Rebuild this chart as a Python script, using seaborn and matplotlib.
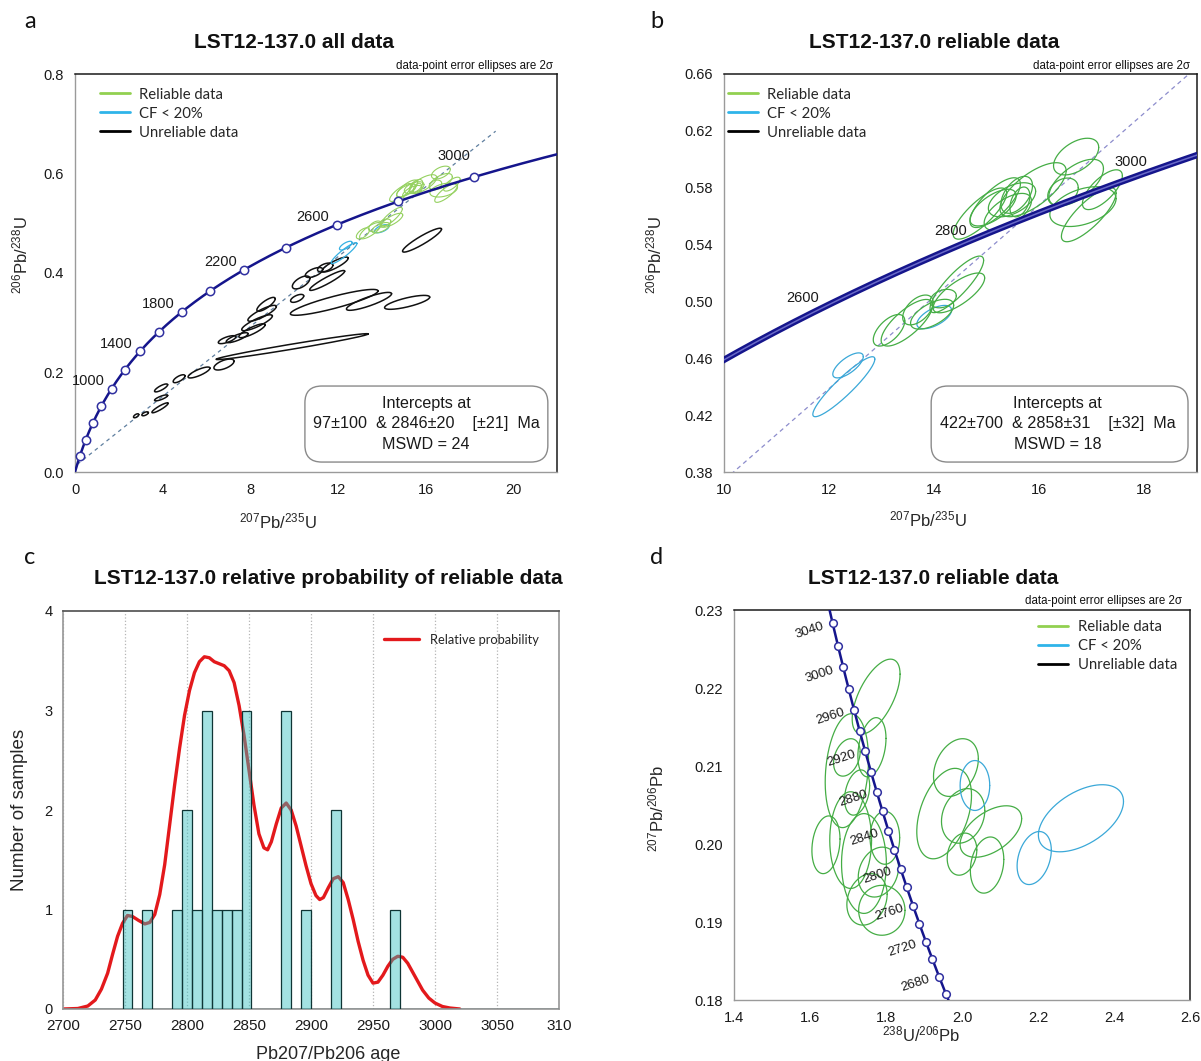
import numpy as np
import pandas as pd
import matplotlib
matplotlib.use("Agg")
import matplotlib.pyplot as plt
import seaborn as sns
from matplotlib.lines import Line2D
from matplotlib.patches import FancyBboxPatch
from matplotlib.ticker import MultipleLocator, FormatStrFormatter, FixedLocator, FixedFormatter

# ------------------------------------------------------------------ data
LAMBDA_238 = 1.55125e-10
LAMBDA_235 = 9.8485e-10
U238_U235 = 137.88

# panel a (Wetherill concordia, all data)
a_marker_ages = [200, 400, 600, 800, 1000, 1200, 1400, 1600, 1800, 2000,
                 2200, 2400, 2600, 2800, 3000]
a_label_ages = [1000, 1400, 1800, 2200, 2600, 3000]
a_intercepts = [97, 2846]
a_box_lines = ["Intercepts at", "97\u00b1100  & 2846\u00b120    [\u00b121]  Ma", "MSWD = 24"]

# unreliable analyses (207Pb/235U, 206Pb/238U, half-extent x, half-extent y, rho)
bad_x = [15.84, 11.83, 13.42, 15.16, 9.91, 6.80, 5.66, 4.75, 3.93, 3.88, 2.79, 3.20,
         3.93, 8.72, 8.54, 8.31, 8.08, 7.40, 6.94, 10.14, 10.32, 10.91, 11.42, 11.51, 11.87]
bad_y = [0.466, 0.341, 0.343, 0.341, 0.252, 0.216, 0.200, 0.1875, 0.169, 0.129, 0.113, 0.117,
         0.149, 0.337, 0.319, 0.300, 0.284, 0.270, 0.266, 0.349, 0.381, 0.401, 0.411, 0.385, 0.417]
bad_sx = [0.89, 2.00, 1.03, 1.03, 3.47, 0.46, 0.50, 0.27, 0.30, 0.37, 0.12, 0.15,
          0.30, 0.42, 0.65, 0.70, 0.60, 0.50, 0.40, 0.30, 0.40, 0.40, 0.35, 0.80, 0.60]
bad_sy = [0.024, 0.026, 0.018, 0.014, 0.026, 0.011, 0.011, 0.008, 0.008, 0.010, 0.004, 0.004,
          0.006, 0.014, 0.016, 0.016, 0.014, 0.010, 0.008, 0.008, 0.013, 0.010, 0.009, 0.020, 0.015]
bad_rho = [0.92, 0.88, 0.85, 0.75, 0.98, 0.60, 0.80, 0.70, 0.80, 0.90, 0.60, 0.60,
           0.80, 0.80, 0.85, 0.85, 0.85, 0.80, 0.70, 0.60, 0.60, 0.60, 0.50, 0.93, 0.85]

# reliable analyses (Wetherill space)
rel_x = [13.14, 13.48, 13.69, 13.96, 14.43, 14.47, 14.17, 14.87, 15.16, 15.12, 15.40,
         15.48, 15.88, 15.63, 15.57, 16.45, 16.70, 16.70, 16.83, 16.94, 17.20]
rel_y = [0.4797, 0.485, 0.494, 0.491, 0.512, 0.506, 0.502, 0.5618, 0.5695, 0.566, 0.563,
         0.5715, 0.5786, 0.570, 0.575, 0.577, 0.5836, 0.6019, 0.5667, 0.561, 0.5786]
rel_sx = [0.30, 0.49, 0.29, 0.41, 0.51, 0.49, 0.25, 0.51, 0.48, 0.44, 0.45,
          0.45, 0.63, 0.19, 0.30, 0.29, 0.52, 0.43, 0.63, 0.52, 0.38]
rel_sy = [0.0111, 0.0164, 0.0105, 0.0105, 0.0199, 0.014, 0.0065, 0.018, 0.0175, 0.0129, 0.013,
          0.012, 0.019, 0.0105, 0.013, 0.0098, 0.0164, 0.0129, 0.014, 0.019, 0.014]
rel_rho = [0.60, 0.75, 0.50, 0.60, 0.85, 0.75, 0.30, 0.80, 0.75, 0.65, 0.60,
           0.50, 0.70, 0.40, 0.50, 0.30, 0.60, 0.50, 0.40, 0.80, 0.70]

# common-Pb flagged (CF < 20 %) analyses (Wetherill space)
cf_x = [14.00, 12.36, 12.28]
cf_y = [0.489, 0.455, 0.440]
cf_sx = [0.33, 0.29, 0.59]
cf_sy = [0.0082, 0.0088, 0.0211]
cf_rho = [0.60, 0.70, 0.92]

# panel b
b_label_ages = [2600, 2800, 3000]
b_intercepts = [422, 2858]
b_box_lines = ["Intercepts at", "422\u00b1700  & 2858\u00b131    [\u00b132]  Ma", "MSWD = 18"]
b_ytick_values = [0.38, 0.42, 0.46, 0.50, 0.54, 0.58, 0.62, 0.66]
b_yminor_values = [0.40, 0.44, 0.48, 0.52, 0.56, 0.60, 0.64]

# panel c (histogram of 207Pb/206Pb ages, 8 Ma bins)
hist_bin_left = [2748, 2764, 2788, 2796, 2804, 2812, 2820, 2828, 2836, 2844, 2876, 2892, 2916, 2964]
hist_counts = [1, 1, 1, 2, 1, 3, 1, 1, 1, 3, 3, 1, 2, 1]
prob_age = [2700, 2712, 2720, 2726, 2731, 2736, 2740, 2744, 2748, 2752, 2756, 2761, 2766, 2770,
            2774, 2778, 2782, 2786, 2790, 2794, 2798, 2802, 2806, 2810, 2814, 2818, 2822, 2826,
            2830, 2834, 2838, 2842, 2846, 2850, 2854, 2858, 2862, 2865, 2868, 2872, 2876, 2880,
            2884, 2888, 2892, 2896, 2900, 2904, 2907, 2910, 2914, 2918, 2922, 2926, 2930, 2934,
            2938, 2942, 2946, 2950, 2954, 2958, 2962, 2966, 2970, 2974, 2978, 2982, 2986, 2990,
            2995, 3000, 3006, 3012, 3020]
prob_value = [0.0, 0.005, 0.03, 0.09, 0.20, 0.36, 0.55, 0.73, 0.86, 0.94, 0.93, 0.89, 0.855, 0.87,
              0.95, 1.15, 1.45, 1.85, 2.25, 2.62, 2.95, 3.20, 3.38, 3.49, 3.54, 3.53, 3.49, 3.47,
              3.45, 3.40, 3.28, 3.05, 2.75, 2.40, 2.05, 1.76, 1.62, 1.60, 1.68, 1.86, 2.02, 2.07,
              2.00, 1.84, 1.64, 1.44, 1.26, 1.14, 1.10, 1.12, 1.22, 1.31, 1.33, 1.27, 1.10, 0.90,
              0.68, 0.49, 0.34, 0.26, 0.27, 0.34, 0.43, 0.50, 0.53, 0.52, 0.46, 0.37, 0.28, 0.19,
              0.11, 0.06, 0.025, 0.01, 0.0]
c_xtick_values = [2700, 2750, 2800, 2850, 2900, 2950, 3000, 3050, 3100]
c_xtick_labels = ["2700", "2750", "2800", "2850", "2900", "2950", "3000", "3050", "310"]

# panel d (Tera-Wasserburg: 238U/206Pb, 207Pb/206Pb)
d_marker_ages = list(range(2640, 3081, 20))
d_label_ages = [2680, 2720, 2760, 2800, 2840, 2880, 2920, 2960, 3000, 3040]
tw_rel_x = [1.774, 1.763, 1.697, 1.697, 1.724, 1.642, 1.707, 1.742, 1.797, 1.780, 1.750, 1.789,
            1.984, 1.953, 2.003, 2.076, 2.000, 2.066]
tw_rel_y = [0.2189, 0.2124, 0.2111, 0.2094, 0.2066, 0.1999, 0.2005, 0.1975, 0.2008, 0.1964,
            0.1929, 0.1915, 0.2098, 0.2039, 0.2036, 0.2016, 0.1987, 0.1973]
tw_rel_sx = [0.063, 0.037, 0.035, 0.057, 0.033, 0.037, 0.055, 0.059, 0.039, 0.053, 0.053, 0.061,
             0.059, 0.072, 0.057, 0.081, 0.039, 0.044]
tw_rel_sy = [0.0048, 0.0038, 0.0024, 0.0073, 0.0029, 0.0037, 0.0062, 0.0064, 0.0034, 0.0032,
             0.0033, 0.0032, 0.0037, 0.0058, 0.0035, 0.0033, 0.0027, 0.0036]
tw_rel_rho = [0.60, 0.30, 0.30, 0.20, 0.30, 0.20, 0.0, 0.0, 0.0, 0.20, 0.20, 0.0,
              0.30, 0.40, 0.20, 0.50, 0.20, 0.20]
tw_cf_x = [2.034, 2.313, 2.190]
tw_cf_y = [0.2075, 0.2033, 0.1982]
tw_cf_sx = [0.039, 0.112, 0.045]
tw_cf_sy = [0.0032, 0.0043, 0.0034]
tw_cf_rho = [0.0, 0.50, 0.30]

legend_labels = ["Reliable data", "CF < 20%", "Unreliable data"]

# ------------------------------------------------------------------ helpers
def wetherill(age_ma):
    t = np.asarray(age_ma, dtype=float) * 1e6
    return np.exp(LAMBDA_235 * t) - 1.0, np.exp(LAMBDA_238 * t) - 1.0

def tera(age_ma):
    x75, y68 = wetherill(age_ma)
    return 1.0 / y68, x75 / y68 / U238_U235

def draw_ellipses(ax, xs, ys, sxs, sys_, rhos, color, lw, z=3):
    t = np.linspace(0, 2 * np.pi, 240)
    for cx, cy, sx, sy, r in zip(xs, ys, sxs, sys_, rhos):
        ex = cx + sx * np.cos(t)
        ey = cy + sy * (r * np.cos(t) + np.sqrt(1 - r * r) * np.sin(t))
        ax.plot(ex, ey, color=color, lw=lw, zorder=z)

def frame(ax):
    for s in ["left", "bottom"]:
        ax.spines[s].set_color("#9a9a9a")
        ax.spines[s].set_linewidth(1.0)
    for s in ["top", "right"]:
        ax.spines[s].set_color("#1a1a1a")
        ax.spines[s].set_linewidth(1.1)
    ax.tick_params(which="both", direction="in", color="#9a9a9a", labelsize=10.5,
                   labelcolor="#1a1a1a", top=False, right=False)
    ax.tick_params(which="major", length=4, width=0.8, pad=8)
    ax.tick_params(which="minor", length=3, width=0.8)

def add_legend(ax, x, y):
    colors = ["#92D050", "#2FB4E9", "#000000"]
    handles = [Line2D([], [], color=c, lw=2.0) for c in colors]
    ax.legend(handles, legend_labels, loc="upper left", bbox_to_anchor=(x, y),
              frameon=False, handlelength=2.0, handletextpad=0.65, labelspacing=0.34,
              borderaxespad=0, borderpad=0, prop={"family": "Lato", "size": 10.7})

def intercept_box(ax, x0, x1, y0, y1, xc, lines):
    box = FancyBboxPatch((x0, y0), x1 - x0, y1 - y0, transform=ax.transAxes,
                         boxstyle="round,pad=0,rounding_size=0.035", mutation_aspect=1.2,
                         fc="white", ec="#8a8a8a", lw=1.0, zorder=5)
    ax.add_patch(box)
    for yy, s in zip([0.171, 0.121, 0.070], lines):
        ax.text(xc, yy, s, transform=ax.transAxes, ha="center", va="center",
                fontsize=11.6, color="#1a1a1a", zorder=6)

# ------------------------------------------------------------------ figure
sns.set_theme(style="white")
plt.rcParams["font.family"] = ["Liberation Sans", "DejaVu Sans"]
plt.rcParams["mathtext.fontset"] = "custom"
plt.rcParams["mathtext.rm"] = "Liberation Sans"
plt.rcParams["mathtext.it"] = "Liberation Sans"
plt.rcParams["mathtext.bf"] = "Liberation Sans:bold"

W, H = 1201, 1061
fig = plt.figure(figsize=(W / 100, H / 100), dpi=100)
fig.patch.set_facecolor("white")

def px_axes(l, t, r, b):
    return fig.add_axes([l / W, 1 - b / H, (r - l) / W, (b - t) / H])

ax_a = px_axes(75, 74, 557, 472)
ax_b = px_axes(724, 74, 1197, 472)
ax_c = px_axes(63, 611, 559, 1009)
ax_d = px_axes(734, 610, 1190, 1000)

NAVY = "#15158C"
lab68 = r"$^{206}$Pb/$^{238}$U"
lab75 = r"$^{207}$Pb/$^{235}$U"

# ---------------- panel a
ages_curve = np.linspace(0, 3400, 600)
cx_, cy_ = wetherill(ages_curve)
sns.lineplot(x=cx_, y=cy_, ax=ax_a, color=NAVY, lw=1.8, sort=False, estimator=None, zorder=4)
mx, my = wetherill(a_marker_ages)
ax_a.plot(mx, my, "o", ms=6, mfc="white", mec="#3030A0", mew=1.1, zorder=5)
for age in a_label_ages:
    lx, ly = wetherill(age)
    off = (-14, 15) if age == 3000 else (-17, 5.5)
    ax_a.annotate(str(age), (lx, ly), xytext=off, textcoords="offset points",
                  ha="center", va="center", fontsize=10.5, color="#1a1a1a", zorder=6)
(ix0, iy0) = wetherill(a_intercepts[0])
(ix1, iy1) = wetherill(a_intercepts[1])
slope_a = (iy1 - iy0) / (ix1 - ix0)
dx = np.array([ix0, 19.2])
ax_a.plot(dx, iy0 + slope_a * (dx - ix0), ls=(0, (3, 3)), color="#5F7F9F", lw=0.9, zorder=2)
draw_ellipses(ax_a, bad_x, bad_y, bad_sx, bad_sy, bad_rho, "#111111", 1.1)
draw_ellipses(ax_a, cf_x, cf_y, cf_sx, cf_sy, cf_rho, "#35B0E2", 0.9)
draw_ellipses(ax_a, rel_x, rel_y, rel_sx, rel_sy, rel_rho, "#95D160", 0.8)
ax_a.set_xlim(0, 22)
ax_a.set_ylim(0, 0.8)
ax_a.xaxis.set_major_locator(MultipleLocator(4))
ax_a.xaxis.set_minor_locator(MultipleLocator(2))
ax_a.yaxis.set_major_locator(MultipleLocator(0.2))
ax_a.yaxis.set_minor_locator(MultipleLocator(0.1))
ax_a.yaxis.set_major_formatter(FormatStrFormatter("%.1f"))
frame(ax_a)
ax_a.set_xlabel(lab75, fontsize=12)
ax_a.set_ylabel(lab68, fontsize=12)
ax_a.xaxis.set_label_coords(0.42, -0.098)
ax_a.yaxis.set_label_coords(-0.092, 0.545)
add_legend(ax_a, 0.052, 0.966)
intercept_box(ax_a, 0.477, 0.981, 0.025, 0.216, 0.728, a_box_lines)

# ---------------- panel b
ages_b = np.linspace(2400, 3200, 400)
bx_, by_ = wetherill(ages_b)
sns.lineplot(x=bx_, y=by_, ax=ax_b, color=NAVY, lw=4.6, sort=False, estimator=None, zorder=4)
sns.lineplot(x=bx_, y=by_, ax=ax_b, color="#6A6AC8", lw=1.1, sort=False, estimator=None, zorder=4)
for age in b_label_ages:
    lx, ly = wetherill(age)
    ax_b.annotate(str(age), (lx, ly), xytext=(-17, 5.5), textcoords="offset points",
                  ha="center", va="center", fontsize=10.5, color="#1a1a1a", zorder=6)
(jx0, jy0) = wetherill(b_intercepts[0])
(jx1, jy1) = wetherill(b_intercepts[1])
slope_b = (jy1 - jy0) / (jx1 - jx0)
dxb = np.array([9.9, jx0 + (0.665 - jy0) / slope_b])
ax_b.plot(dxb, jy0 + slope_b * (dxb - jx0), ls=(0, (3.5, 3)), color="#8C8CCC", lw=0.9, zorder=2)
draw_ellipses(ax_b, cf_x, cf_y, cf_sx, cf_sy, cf_rho, "#3AA8D8", 0.9)
draw_ellipses(ax_b, rel_x, rel_y, rel_sx, rel_sy, rel_rho, "#45AD45", 0.9)
ax_b.set_xlim(10, 19)
ax_b.set_ylim(0.38, 0.66)
ax_b.xaxis.set_major_locator(MultipleLocator(2))
ax_b.xaxis.set_minor_locator(MultipleLocator(1))
ax_b.yaxis.set_major_locator(FixedLocator(b_ytick_values))
ax_b.yaxis.set_minor_locator(FixedLocator(b_yminor_values))
ax_b.yaxis.set_major_formatter(FormatStrFormatter("%.2f"))
frame(ax_b)
ax_b.set_xlabel(lab75, fontsize=12)
ax_b.set_ylabel(lab68, fontsize=12)
ax_b.xaxis.set_label_coords(0.43, -0.093)
ax_b.yaxis.set_label_coords(-0.125, 0.545)
add_legend(ax_b, 0.0085, 0.966)
intercept_box(ax_b, 0.438, 0.981, 0.025, 0.216, 0.705, b_box_lines)

# ---------------- panel c
hist_df = pd.DataFrame({"age": [v + 4 for v in hist_bin_left], "n": hist_counts})
prob_df = pd.DataFrame({"age": prob_age, "p": prob_value})
sns.lineplot(data=prob_df, x="age", y="p", ax=ax_c, color="#E3191C", lw=2.4, sort=False,
             estimator=None, zorder=2, label="Relative probability")
sns.histplot(data=hist_df, x="age", weights="n", binwidth=8, binrange=(2700, 3100), ax=ax_c,
             color="#33BFBF", alpha=0.45, edgecolor="#0F3535", linewidth=0.9, zorder=3)
ax_c.set_xlim(2700, 3100)
ax_c.set_ylim(0, 4)
ax_c.xaxis.set_major_locator(FixedLocator(c_xtick_values))
ax_c.xaxis.set_major_formatter(FixedFormatter(c_xtick_labels))
ax_c.xaxis.set_minor_locator(MultipleLocator(10))
ax_c.yaxis.set_major_locator(MultipleLocator(1))
ax_c.grid(axis="x", which="major", ls=":", color="#B5B5B5", lw=0.9)
ax_c.grid(axis="y", visible=False)
ax_c.set_axisbelow(True)
for s in ["left", "bottom", "right"]:
    ax_c.spines[s].set_color("#9a9a9a")
ax_c.spines["top"].set_color("#555555")
ax_c.tick_params(axis="x", which="both", direction="in", color="#8a8a8a", labelsize=11,
                 labelcolor="#1a1a1a", length=3, pad=7)
ax_c.tick_params(axis="y", which="major", direction="inout", color="#8a8a8a", labelsize=10.5,
                 labelcolor="#1a1a1a", length=5, pad=5)
ax_c.set_xlabel("Pb207/Pb206 age", fontsize=13)
ax_c.set_ylabel("Number of samples", fontsize=13.5)
ax_c.xaxis.set_label_coords(0.534, -0.093)
ax_c.yaxis.set_label_coords(-0.07, 0.5)
ax_c.legend(loc="upper left", bbox_to_anchor=(0.647, 0.943), frameon=False, handlelength=2.7,
            handletextpad=0.9, borderpad=0, borderaxespad=0,
            prop={"family": "Lato", "size": 9.3})

# ---------------- panel d
ages_d = np.linspace(2600, 3120, 400)
tx_, ty_ = tera(ages_d)
sns.lineplot(x=tx_, y=ty_, ax=ax_d, color=NAVY, lw=1.8, sort=False, estimator=None, zorder=4)
tmx, tmy = tera(d_marker_ages)
ax_d.plot(tmx, tmy, "o", ms=5.5, mfc="white", mec="#3030A0", mew=1.1, zorder=5)
for age in d_label_ages:
    lx, ly = tera(age)
    ax_d.annotate(str(age), (lx, ly), xytext=(-17, -5), textcoords="offset points",
                  ha="center", va="center", fontsize=9.5, rotation=18, color="#1a1a1a", zorder=6)
draw_ellipses(ax_d, tw_rel_x, tw_rel_y, tw_rel_sx, tw_rel_sy, tw_rel_rho, "#45AD45", 0.9)
draw_ellipses(ax_d, tw_cf_x, tw_cf_y, tw_cf_sx, tw_cf_sy, tw_cf_rho, "#3AA8D8", 0.9)
ax_d.set_xlim(1.4, 2.6)
ax_d.set_ylim(0.18, 0.23)
ax_d.xaxis.set_major_locator(MultipleLocator(0.2))
ax_d.xaxis.set_minor_locator(MultipleLocator(0.1))
ax_d.yaxis.set_major_locator(MultipleLocator(0.01))
ax_d.yaxis.set_minor_locator(MultipleLocator(0.005))
ax_d.xaxis.set_major_formatter(FormatStrFormatter("%.1f"))
ax_d.yaxis.set_major_formatter(FormatStrFormatter("%.2f"))
frame(ax_d)
ax_d.set_xlabel(r"$^{238}$U/$^{206}$Pb", fontsize=12)
ax_d.set_ylabel(r"$^{207}$Pb/$^{206}$Pb", fontsize=12)
ax_d.xaxis.set_label_coords(0.41, -0.062)
ax_d.yaxis.set_label_coords(-0.148, 0.49)
add_legend(ax_d, 0.667, 0.974)

# ---------------- titles, panel letters, notes
for x, y, s in [(294, 43, "LST12-137.0 all data"), (934, 43, "LST12-137.0 reliable data"),
                (328, 579, "LST12-137.0 relative probability of reliable data"),
                (933, 578, "LST12-137.0 reliable data")]:
    fig.text(x / W, 1 - y / H, s, ha="center", va="center", fontsize=15,
             fontweight="bold", color="#111111")
for x, y, s in [(30, 22, "a"), (657, 22, "b"), (30, 557, "c"), (657, 557, "d")]:
    fig.text(x / W, 1 - y / H, s, ha="center", va="center", fontsize=17,
             family=["Lato", "DejaVu Sans"], color="#111111")
for x, y in [(553, 66), (1190, 66), (1182, 601)]:
    fig.text(x / W, 1 - y / H, "data-point error ellipses are 2\u03c3", ha="right",
             va="center", fontsize=8.3, color="#111111")

fig.savefig("out.png", dpi=100, facecolor="white")
